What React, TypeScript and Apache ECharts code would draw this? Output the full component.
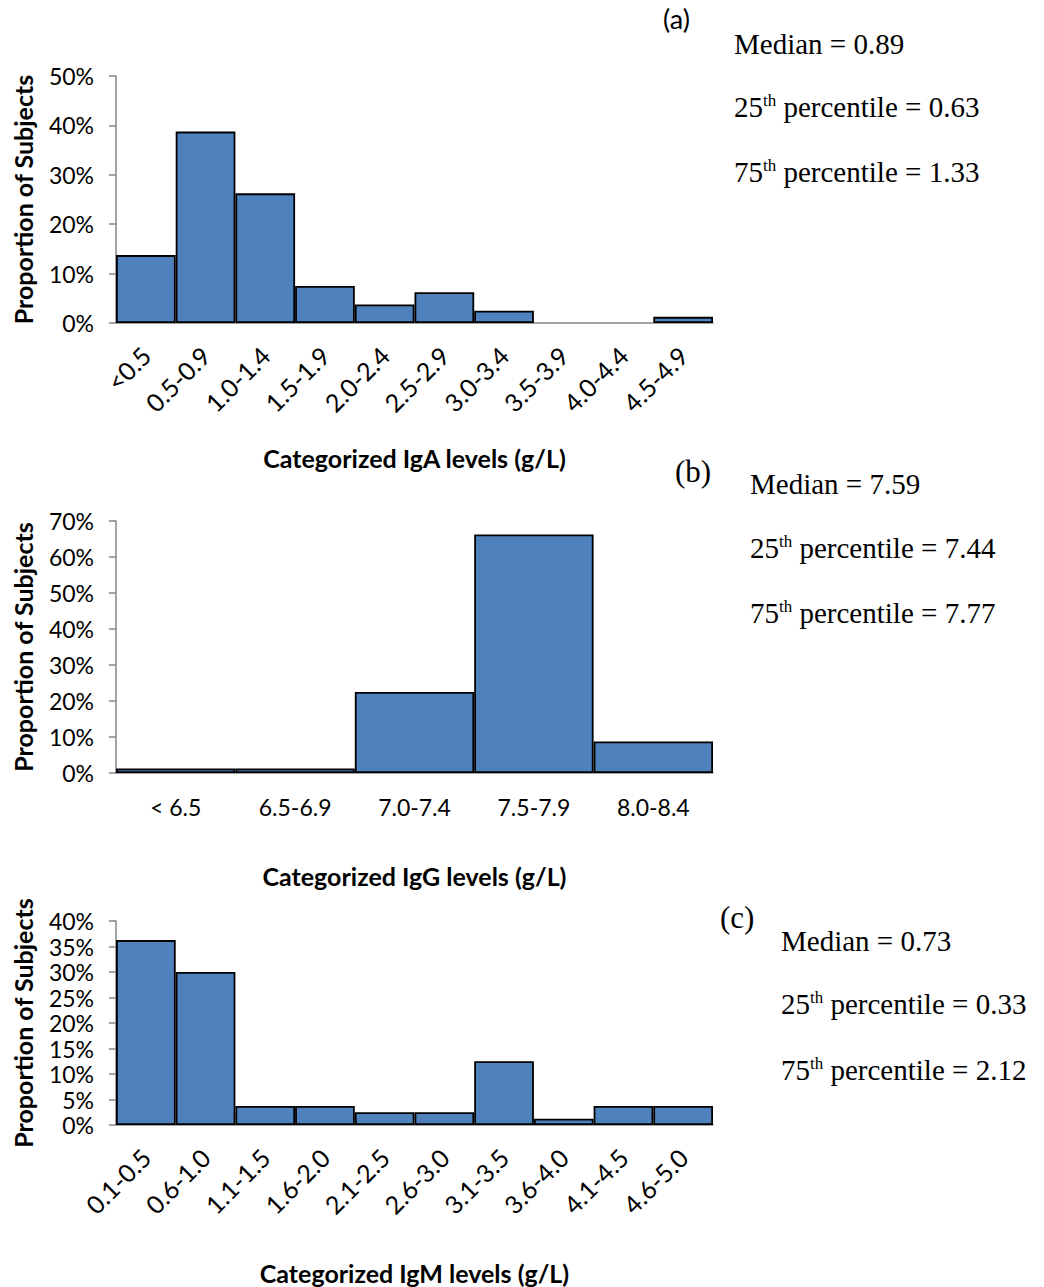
import React, { useEffect, useRef } from "react";
import * as echarts from "echarts";

const igaCategories = ["<0.5", "0.5-0.9", "1.0-1.4", "1.5-1.9", "2.0-2.4", "2.5-2.9", "3.0-3.4", "3.5-3.9", "4.0-4.4", "4.5-4.9"];
const igaValues = [13.75, 38.75, 26.25, 7.5, 3.75, 6.25, 2.5, 0, 0, 1.25];
const iggCategories = ["< 6.5", "6.5-6.9", "7.0-7.4", "7.5-7.9", "8.0-8.4"];
const iggValues = [1.25, 1.25, 22.5, 66.25, 8.75];
const igmCategories = ["0.1-0.5", "0.6-1.0", "1.1-1.5", "1.6-2.0", "2.1-2.5", "2.6-3.0", "3.1-3.5", "3.6-4.0", "4.1-4.5", "4.6-5.0"];
const igmValues = [36.25, 30, 3.75, 3.75, 2.5, 2.5, 12.5, 1.25, 3.75, 3.75];

const igaStats = ["0.89", "0.63", "1.33"];
const iggStats = ["7.59", "7.44", "7.77"];
const igmStats = ["0.73", "0.33", "2.12"];

const SANS = "Lato, 'Open Sans', sans-serif";
const SERIF = "'Liberation Serif', 'DejaVu Serif', serif";
const AXIS_GREY = "#868686";

function statTexts(x: number, ys: number[], vals: string[], size: number) {
  const rich = {
    n: { fontFamily: SERIF, fontSize: size, fill: "#000" },
    s: { fontFamily: SERIF, fontSize: Math.round(size * 0.58), lineHeight: 12, fill: "#000", verticalAlign: "top" },
  };
  return [
    { type: "text", left: x, top: ys[0], style: { text: `Median = ${vals[0]}`, font: `${size}px ${SERIF}`, fill: "#000" } },
    { type: "text", left: x, top: ys[1], style: { text: `{n|25}{s|th}{n| percentile = ${vals[1]}}`, rich, fill: "#000" } },
    { type: "text", left: x, top: ys[2], style: { text: `{n|75}{s|th}{n| percentile = ${vals[2]}}`, rich, fill: "#000" } },
  ];
}

export default function App() {
  const ref = useRef<HTMLDivElement>(null);
  useEffect(() => {
    if (!ref.current) return;
    const chart = echarts.init(ref.current, undefined, { renderer: "svg" });
    const grids = [
      { left: 116, right: 331, top: 76, height: 247 },
      { left: 116, right: 331, top: 521, height: 252 },
      { left: 116, right: 331, top: 921, height: 204 },
    ];
    const cats = [igaCategories, iggCategories, igmCategories];
    const vals = [igaValues, iggValues, igmValues];
    const maxes = [50, 70, 40];
    const intervals = [10, 10, 5];
    const rotates = [45, 0, 45];
    const labelSizes = [25, 23, 25];
    const xNames = ["Categorized IgA levels (g/L)", "Categorized IgG levels (g/L)", "Categorized IgM levels (g/L)"];
    const xGaps = [122, 90, 135];

    const option: any = {
      animation: false,
      backgroundColor: "#fff",
      grid: grids,
      xAxis: cats.map((c, i) => ({
        type: "category",
        gridIndex: i,
        data: c,
        axisLine: { show: true, lineStyle: { color: AXIS_GREY, width: 1.5 } },
        axisTick: { show: false },
        axisLabel: {
          color: "#000",
          fontFamily: SANS,
          fontSize: labelSizes[i],
          rotate: rotates[i],
          margin: rotates[i] ? 28 : 22,
          interval: 0,
        },
        name: xNames[i],
        nameLocation: "middle",
        nameGap: xGaps[i],
        nameTextStyle: { color: "#000", fontFamily: SANS, fontSize: 25, fontWeight: "bold" },
      })),
      yAxis: maxes.map((m, i) => ({
        type: "value",
        gridIndex: i,
        min: 0,
        max: m,
        interval: intervals[i],
        splitLine: { show: false },
        axisLine: { show: true, lineStyle: { color: AXIS_GREY, width: 1.5 } },
        axisTick: { show: true, length: 7, lineStyle: { color: AXIS_GREY, width: 1.5 } },
        axisLabel: { color: "#000", fontFamily: SANS, fontSize: 23, margin: 22, formatter: "{value}%" },
        name: "Proportion of Subjects",
        nameLocation: "middle",
        nameRotate: 90,
        nameGap: 81,
        nameTextStyle: { color: "#000", fontFamily: SANS, fontSize: 25, fontWeight: "bold" },
      })),
      series: vals.map((v, i) => ({
        type: "bar",
        xAxisIndex: i,
        yAxisIndex: i,
        data: v.map((d) => (d === 0 ? { value: d, itemStyle: { borderWidth: 0 } } : d)),
        barCategoryGap: "0%",
        itemStyle: { color: "#4F81BD", borderColor: "#000", borderWidth: 1.8 },
      })),
      graphic: [
        { type: "text", left: 663, top: 5, style: { text: "(a)", font: `27px ${SANS}`, fill: "#000" } },
        ...statTexts(734, [29, 92, 157], igaStats, 29),
        { type: "text", left: 675, top: 456, style: { text: "(b)", font: `31px ${SERIF}`, fill: "#000" } },
        ...statTexts(750, [469, 533, 598], iggStats, 29),
        { type: "text", left: 720, top: 902, style: { text: "(c)", font: `31px ${SERIF}`, fill: "#000" } },
        ...statTexts(781, [926, 989, 1055], igmStats, 29),
      ],
    };
    chart.setOption(option);
    return () => chart.dispose();
  }, []);
  return <div ref={ref} style={{ position: "absolute", left: 0, top: 0, width: 1044, height: 1287 }} />;
}
